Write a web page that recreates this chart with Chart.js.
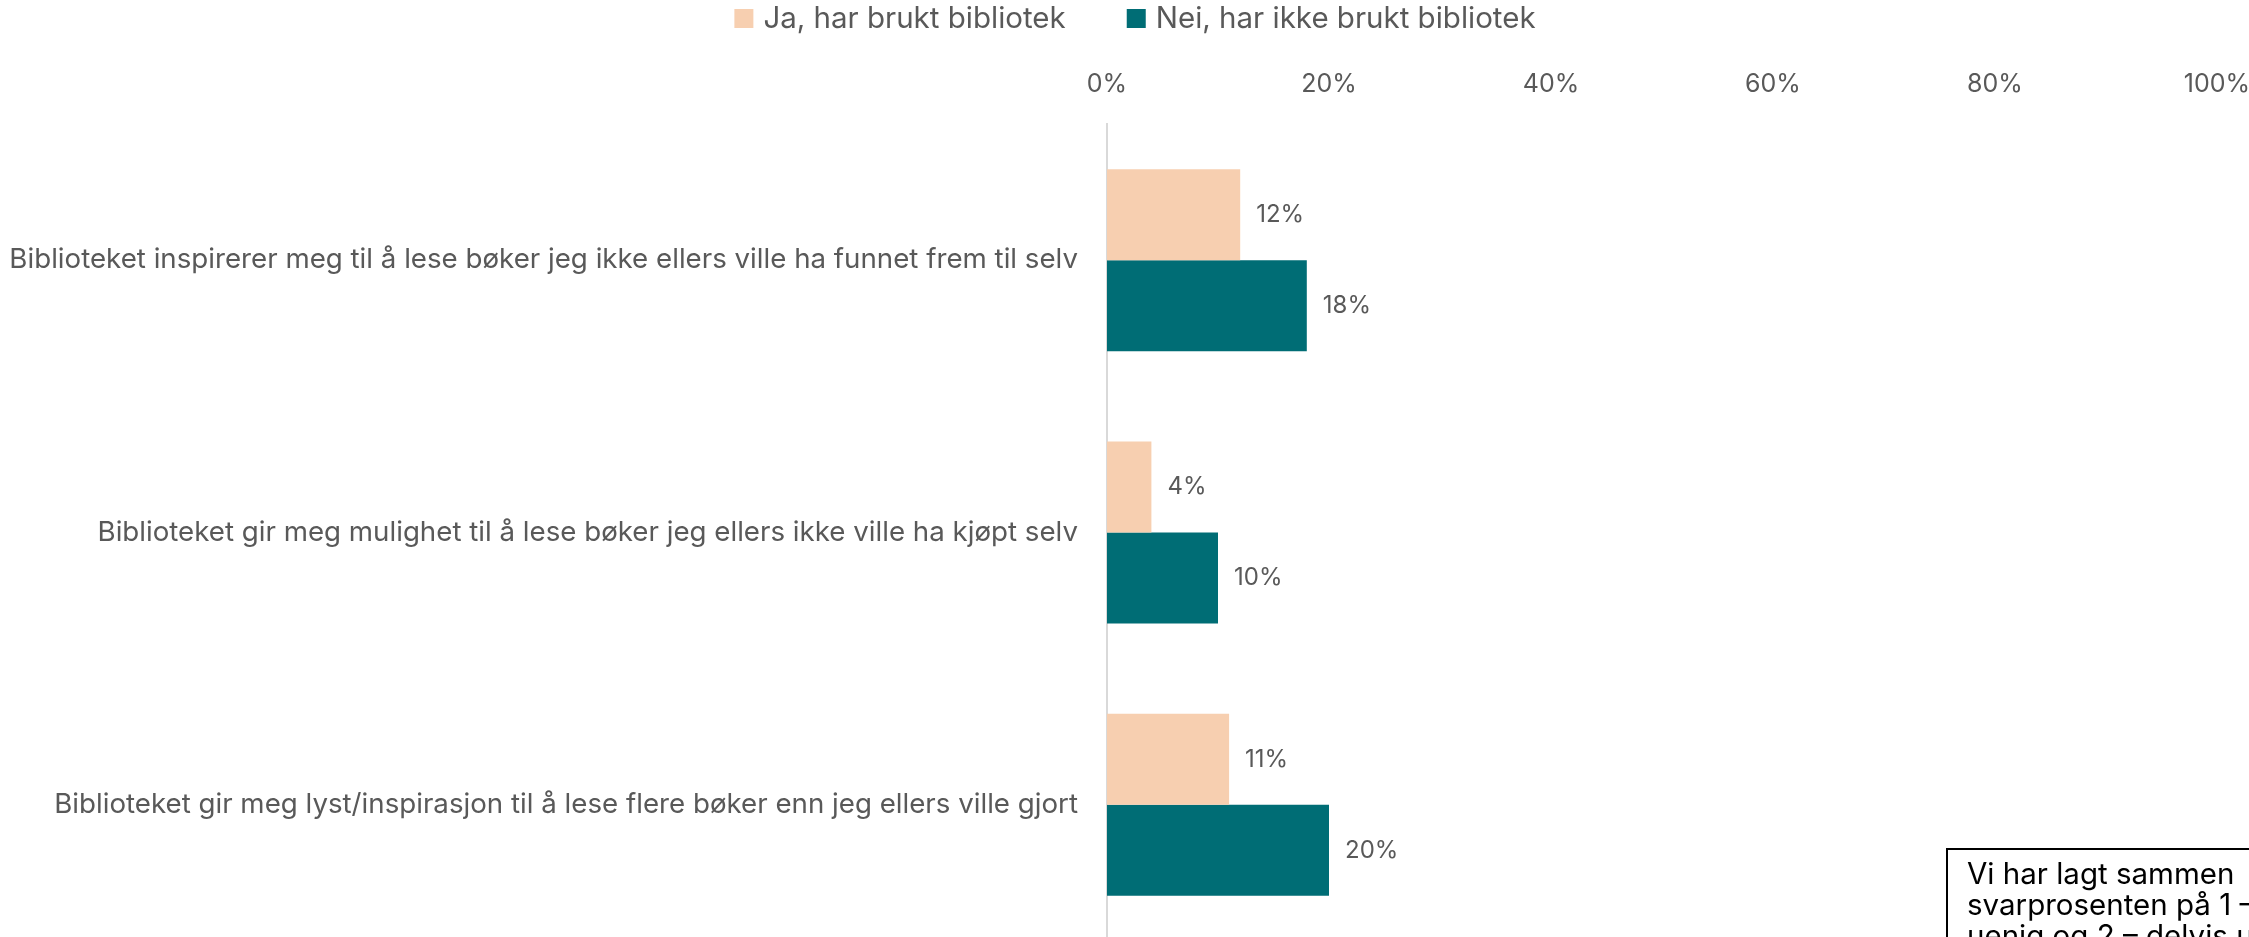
<!DOCTYPE html>
<html>
<head>
<meta charset="utf-8">
<script src="https://cdn.jsdelivr.net/npm/chart.js@4.4.1/dist/chart.umd.min.js"></script>
<style>
  html, body { margin: 0; padding: 0; background: #ffffff; overflow: hidden; width: 2249px; height: 937px; }
  #wrap { position: absolute; left: 0; top: 0; width: 2249px; height: 941px; }
  #note {
    position: absolute; left: 1946px; top: 848px; width: 420px; height: 200px;
    border: 2px solid #000; box-sizing: border-box; padding: 8px 0 0 19px;
    font-family: Inter, "Open Sans", sans-serif; font-size: 29.5px; line-height: 31px; color: #000;
    white-space: nowrap;
  }
</style>
</head>
<body>
<div id="wrap"><canvas id="c" width="2249" height="941"></canvas></div>
<div id="note">Vi har lagt sammen<br>svarprosenten på 1 –<br>uenig og 2 – delvis uenig</div>
<script>
const categories = [
  "Biblioteket inspirerer meg til å lese bøker jeg ikke ellers ville ha funnet frem til selv",
  "Biblioteket gir meg mulighet til å lese bøker jeg ellers ikke ville ha kjøpt selv",
  "Biblioteket gir meg lyst/inspirasjon til å lese flere bøker enn jeg ellers ville gjort"
];
const seriesNames = ["Ja, har brukt bibliotek", "Nei, har ikke brukt bibliotek"];
const jaValues = [12, 4, 11];
const neiValues = [18, 10, 20];
const tickValues = [0, 20, 40, 60, 80, 100];
const seriesColors = ["#F7CFB0", "#006D75"];

const FONT = "Inter, 'Open Sans', sans-serif";
const GREY = "#595959";

const valueLabels = {
  id: "valueLabels",
  afterDatasetsDraw(chart) {
    const ctx = chart.ctx;
    ctx.save();
    ctx.font = "24px " + FONT;
    ctx.fillStyle = GREY;
    ctx.textAlign = "left";
    ctx.textBaseline = "middle";
    chart.data.datasets.forEach((ds, i) => {
      const meta = chart.getDatasetMeta(i);
      meta.data.forEach((bar, j) => {
        ctx.fillText(ds.data[j] + "%", bar.x + 16, bar.y);
      });
    });
    ctx.restore();
  }
};

// Legend drawn from the datasets (labels + colours)
const topLegend = {
  id: "topLegend",
  afterDraw(chart) {
    const ctx = chart.ctx;
    const box = 19, gapText = 10, gapItem = 61, fs = 29.5, centerX = 1135, centerY = 18.5;
    ctx.save();
    ctx.font = fs + "px " + FONT;
    const items = chart.data.datasets.map(ds => ({ text: ds.label, color: ds.backgroundColor, w: ctx.measureText(ds.label).width }));
    let total = 0;
    items.forEach((it, i) => { total += box + gapText + it.w + (i ? gapItem : 0); });
    let x = centerX - total / 2;
    ctx.textBaseline = "middle";
    ctx.textAlign = "left";
    items.forEach((it, i) => {
      if (i) x += gapItem;
      ctx.fillStyle = it.color;
      ctx.fillRect(x, centerY - box / 2, box, box);
      x += box + gapText;
      ctx.fillStyle = GREY;
      ctx.fillText(it.text, x, centerY + 1);
      x += it.w;
    });
    ctx.restore();
  }
};

new Chart(document.getElementById("c"), {
  type: "bar",
  data: {
    labels: categories,
    datasets: [
      { label: seriesNames[0], data: jaValues, backgroundColor: seriesColors[0], borderWidth: 0 },
      { label: seriesNames[1], data: neiValues, backgroundColor: seriesColors[1], borderWidth: 0 }
    ]
  },
  options: {
    indexAxis: "y",
    responsive: false,
    animation: false,
    layout: { padding: { top: 44, bottom: 0, left: 0, right: 0 } },
    datasets: { bar: { categoryPercentage: 0.668, barPercentage: 1.0 } },
    plugins: {
      legend: { display: false },
      tooltip: { enabled: false }
    },
    scales: {
      x: {
        position: "top",
        min: 0,
        max: 100,
        afterBuildTicks(s) { s.ticks = tickValues.map(v => ({ value: v })); },
        afterFit(s) { s.paddingRight = 32; s.paddingLeft = 0; },
        grid: { display: false, drawTicks: false },
        border: { display: false },
        ticks: {
          font: { family: FONT, size: 25 },
          color: GREY,
          padding: 25,
          callback: v => v + "%"
        }
      },
      y: {
        afterFit(s) { s.width = 1107; s.paddingTop = 0; s.paddingBottom = 0; },
        grid: { display: false, drawTicks: false },
        border: { display: true, color: "#D9D9D9", width: 2 },
        ticks: {
          font: { family: FONT, size: 27.7 },
          color: GREY,
          padding: 29
        }
      }
    }
  },
  plugins: [valueLabels, topLegend]
});
</script>
</body>
</html>
